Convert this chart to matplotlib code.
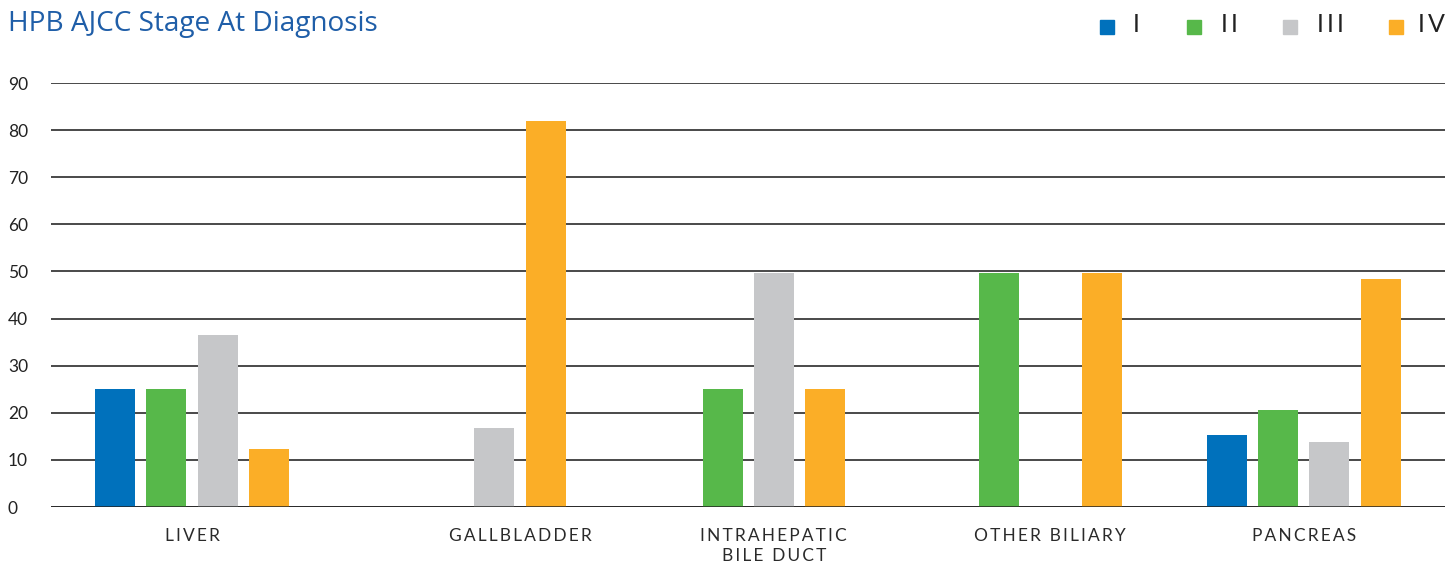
import matplotlib
matplotlib.use("Agg")
import matplotlib.pyplot as plt
from matplotlib.patches import Rectangle

# Percent of cases per AJCC stage at diagnosis, by HPB site.
# None = stage not reported for that site (no slot drawn); 0 = empty slot kept.
categories = ["LIVER", "GALLBLADDER", "INTRAHEPATIC\nBILE DUCT", "OTHER BILIARY", "PANCREAS"]
stages = ["I", "II", "III", "IV"]
stage_I = [25.0, None, None, None, 15.3]
stage_II = [25.0, None, 25.0, 49.6, 20.6]
stage_III = [36.6, 16.8, 49.6, 0.0, 13.8]
stage_IV = [12.3, 81.9, 25.0, 49.6, 48.5]
yticks = [0, 10, 20, 30, 40, 50, 60, 70, 80, 90]

colors = ["#0071BC", "#57B84A", "#C6C7C9", "#FBAE27"]
series = [stage_I, stage_II, stage_III, stage_IV]

# Group centres along the axis, in bar-step units
group_centers = [2.75, 9.14, 14.09, 19.48, 24.42]
bar_width = 0.78

FONT = ["Lato", "DejaVu Sans"]
plt.rcParams["font.family"] = FONT


def spaced(text, gap="\u2009"):
    return "\n".join(gap.join(line) for line in text.split("\n"))


fig = plt.figure(figsize=(14.45, 5.65), dpi=100)
ax = fig.add_axes([51 / 1445, 58 / 565, 1 - 51 / 1445, (507 - 83) / 565])

for ci, center in enumerate(group_centers):
    present = [si for si in range(len(stages)) if series[si][ci] is not None]
    n = len(present)
    for k, si in enumerate(present):
        val = series[si][ci]
        if val:
            ax.bar(center + (k - (n - 1) / 2), val, width=bar_width,
                   color=colors[si], zorder=3, linewidth=0)

ax.set_xlim(0, 1394 / 51.3)
ax.set_ylim(0, 90)
ax.set_yticks(yticks)
ax.set_yticklabels([str(t) for t in yticks], fontsize=12.5, color="#222222")
ax.yaxis.grid(True, color="#3a3a3a", linewidth=1.3, zorder=0)
ax.set_axisbelow(True)
ax.axhline(0, color="#222222", linewidth=1.8, zorder=4)

ax.set_xticks(group_centers)
ax.set_xticklabels([spaced(c) for c in categories], fontsize=12.5,
                   color="#2a2a2a", linespacing=1.3)
ax.tick_params(axis="both", length=0)
ax.tick_params(axis="x", pad=15)
for lbl in ax.get_yticklabels():
    lbl.set_horizontalalignment("left")
    lbl.set_x(-51 / 1394 + 8 / 1394)
ax.yaxis.set_tick_params(pad=0)
for s in ax.spines.values():
    s.set_visible(False)

fig.text(8 / 1445, 1 - 24 / 565, "HPB AJCC Stage At Diagnosis", fontsize=20.2,
         color="#1F5EA8", va="center", ha="left", family=["Open Sans", "DejaVu Sans"])

# Legend: coloured squares with stage labels
sq_x = [1100, 1187, 1283, 1389]
txt_x = [1133, 1221, 1317, 1418]
for name, col, sx, tx in zip(stages, colors, sq_x, txt_x):
    fig.add_artist(Rectangle((sx / 1445, 1 - 34 / 565), 14 / 1445, 14 / 565,
                             transform=fig.transFigure, color=col))
    fig.text(tx / 1445, 1 - 25 / 565, spaced(name, "\u2009"), fontsize=18,
             color="#222222", va="center", ha="left")

fig.savefig("out.png", dpi=100)
